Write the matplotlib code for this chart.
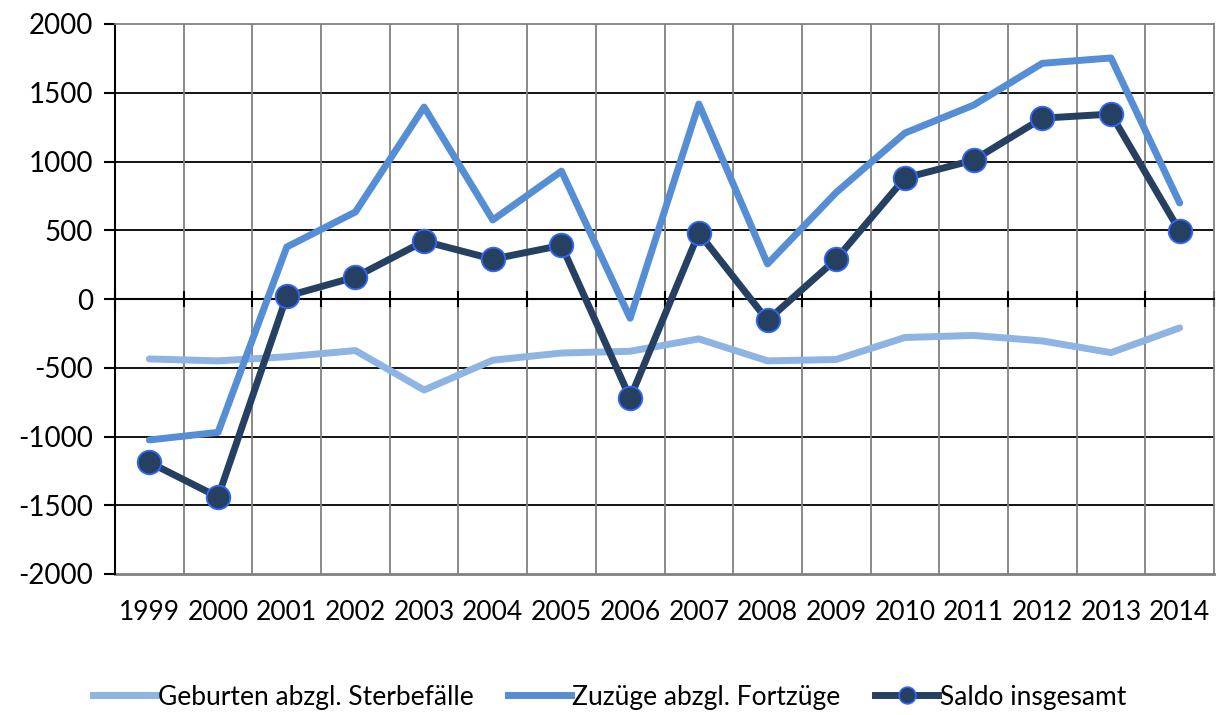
import matplotlib
matplotlib.use("Agg")
import matplotlib.pyplot as plt
from matplotlib.lines import Line2D
from matplotlib.transforms import blended_transform_factory

years = ["1999", "2000", "2001", "2002", "2003", "2004", "2005", "2006",
         "2007", "2008", "2009", "2010", "2011", "2012", "2013", "2014"]
geburten = [-436, -450, -420, -375, -662, -445, -393, -380,
            -290, -450, -440, -280, -265, -305, -390, -210]
zuzuege = [-1025, -970, 378, 633, 1396, 575, 930, -140,
           1418, 255, 775, 1207, 1410, 1714, 1753, 698]
saldo = [-1188, -1440, 20, 160, 420, 290, 390, -720,
         480, -155, 290, 880, 1010, 1315, 1345, 495]
labels = ["Geburten abzgl. Sterbefälle", "Zuzüge abzgl. Fortzüge", "Saldo insgesamt"]

plt.rcParams['font.family'] = ['Lato', 'DejaVu Sans']

fig = plt.figure(figsize=(12.19, 7.15), dpi=100)
ax = fig.add_axes([115/1219, 1 - 574/715, (1214-115)/1219, (574-24)/715])

x = list(range(len(years)))
c_geb = "#8DB4E2"
c_zuz = "#558ED5"
c_sal = "#254061"
LW = 5.0

ax.plot(x, geburten, color=c_geb, lw=LW, solid_capstyle='round', zorder=3)
ax.plot(x, zuzuege, color=c_zuz, lw=LW, solid_capstyle='round', zorder=4)
ax.plot(x, saldo, color=c_sal, lw=LW, marker='o', markersize=17,
        markerfacecolor=c_sal, markeredgecolor="#3366FF", markeredgewidth=1.3,
        solid_capstyle='round', zorder=5)

ax.set_xlim(-0.5, len(years) - 0.5)
ax.set_ylim(-2000, 2000)
ax.set_yticks(range(-2000, 2001, 500))
ax.set_yticklabels([str(v) for v in range(-2000, 2001, 500)])

# horizontal gridlines (black)
for v in range(-1500, 2000, 500):
    ax.axhline(v, color='black', lw=1.3, zorder=1)
# vertical category gridlines (gray)
for b in range(1, len(years)):
    ax.axvline(b - 0.5, color='#808080', lw=1.3, zorder=1)

for s in ['top', 'right']:
    ax.spines[s].set_color('#808080')
    ax.spines[s].set_linewidth(1.3)
ax.spines['left'].set_color('black')
ax.spines['left'].set_linewidth(1.5)
ax.spines['bottom'].set_position(('data', 0))
ax.spines['bottom'].set_color('black')
ax.spines['bottom'].set_linewidth(1.5)
ax.axhline(-2000, color='#808080', lw=2, zorder=1, clip_on=False)

ax.set_xticks([b - 0.5 for b in range(len(years) + 1)])
ax.set_xticklabels([])
ax.tick_params(axis='x', direction='inout', length=12, width=1.5, color='black')
ax.tick_params(axis='y', direction='out', length=8, width=1.5, color='black',
               labelsize=20, pad=8)

trans = blended_transform_factory(ax.transData, ax.transAxes)
for i, yl in enumerate(years):
    ax.text(i, -0.07, yl, transform=trans, ha='center', va='center', fontsize=19)

handles = [
    Line2D([0], [0], color=c_geb, lw=LW),
    Line2D([0], [0], color=c_zuz, lw=LW),
    Line2D([0], [0], color=c_sal, lw=LW, marker='o', markersize=12,
           markerfacecolor=c_sal, markeredgecolor="#3366FF", markeredgewidth=1.2),
]
fig.legend(handles, labels, loc='center', bbox_to_anchor=(0.5, 1 - 697/715),
           ncol=3, frameon=False, fontsize=19, handlelength=2.4,
           handletextpad=0.05, columnspacing=1.3)

fig.savefig("out.png", dpi=100)
